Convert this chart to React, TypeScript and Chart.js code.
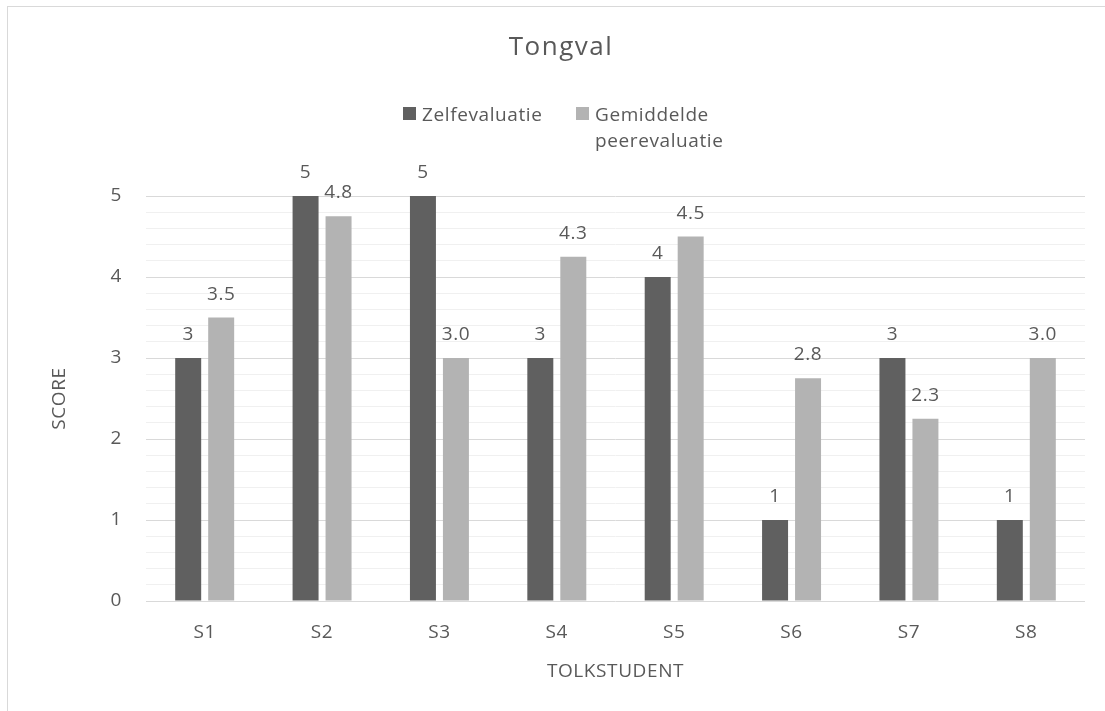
import React, { useEffect, useRef } from 'react';
import { Chart, registerables } from 'chart.js';
Chart.register(...registerables);

const categories = ['S1', 'S2', 'S3', 'S4', 'S5', 'S6', 'S7', 'S8'];
const zelfevaluatie = [3, 5, 5, 3, 4, 1, 3, 1];
const peerevaluatie = [3.5, 4.75, 3.0, 4.25, 4.5, 2.75, 2.25, 3.0];
const seriesNames = ['Zelfevaluatie', 'Gemiddelde peerevaluatie'];
const legendLines = [['Zelfevaluatie'], ['Gemiddelde', 'peerevaluatie']];
const titleText = 'Tongval';
const xTitle = 'TOLKSTUDENT';
const yTitle = 'SCORE';
const yMin = 0;
const yMax = 5;
const yMinorStep = 0.2;

const FONT = "'Open Sans', sans-serif";
const SIZE = 19;
const SPACING = '0.6px';
const TEXT = '#595959';
const DARK = '#606060';
const LIGHT = '#b3b3b3';

const isMajor = (v: number) => Math.abs(v - Math.round(v)) < 1e-6;

const spacingPlugin = {
  id: 'spacing',
  beforeDraw(chart: any) {
    chart.ctx.letterSpacing = SPACING;
  },
};

const labelsPlugin = {
  id: 'valueLabels',
  afterDatasetsDraw(chart: any) {
    const ctx = chart.ctx;
    ctx.save();
    ctx.letterSpacing = SPACING;
    ctx.font = `${SIZE}px ${FONT}`;
    ctx.fillStyle = TEXT;
    ctx.textAlign = 'center';
    ctx.textBaseline = 'alphabetic';
    chart.data.datasets.forEach((ds: any, i: number) => {
      const meta = chart.getDatasetMeta(i);
      meta.data.forEach((bar: any, j: number) => {
        const v = ds.data[j] as number;
        const txt = i === 0 ? String(v) : v.toFixed(1);
        ctx.fillText(txt, bar.x, bar.y - 18);
      });
    });
    ctx.restore();
  },
};

const headerPlugin = {
  id: 'header',
  afterDraw(chart: any) {
    const ctx = chart.ctx;
    ctx.save();
    ctx.fillStyle = TEXT;
    ctx.textBaseline = 'alphabetic';
    ctx.textAlign = 'center';
    ctx.letterSpacing = '1.5px';
    ctx.font = `26px ${FONT}`;
    ctx.fillText(titleText, 561, 55);
    ctx.letterSpacing = SPACING;
    ctx.font = `${SIZE}px ${FONT}`;
    ctx.textAlign = 'left';
    const boxes = [403, 576];
    const colors = chart.data.datasets.map((d: any) => d.backgroundColor);
    legendLines.forEach((lines, i) => {
      ctx.fillStyle = colors[i];
      ctx.fillRect(boxes[i], 107, 13, 13);
      ctx.fillStyle = TEXT;
      lines.forEach((line, k) => {
        ctx.fillText(line, boxes[i] + 19, 121 + k * 25.5);
      });
    });
    ctx.restore();
  },
};

export default function App() {
  const ref = useRef<HTMLCanvasElement | null>(null);
  useEffect(() => {
    if (!ref.current) return;
    const chart = new Chart(ref.current, {
      type: 'bar',
      data: {
        labels: categories,
        datasets: [
          {
            label: seriesNames[0],
            data: zelfevaluatie,
            backgroundColor: DARK,
            categoryPercentage: 0.562,
            barPercentage: 0.788,
          },
          {
            label: seriesNames[1],
            data: peerevaluatie,
            backgroundColor: LIGHT,
            categoryPercentage: 0.562,
            barPercentage: 0.788,
          },
        ],
      },
      options: {
        responsive: false,
        animation: false,
        devicePixelRatio: 1,
        layout: { padding: { left: 44, right: 20, top: 196, bottom: 24 } },
        plugins: {
          legend: { display: false },
          title: { display: false },
          tooltip: { enabled: false },
        },
        scales: {
          x: {
            grid: { display: false, drawTicks: false },
            border: { display: false },
            ticks: { color: TEXT, font: { family: FONT, size: SIZE }, padding: 20 },
            title: {
              display: true,
              text: xTitle,
              color: TEXT,
              font: { family: FONT, size: SIZE },
              padding: { top: 4, bottom: 4 },
            },
            afterFit: (s: any) => {
              s.height = 86;
            },
          },
          y: {
            min: yMin,
            max: yMax,
            ticks: {
              stepSize: yMinorStep,
              autoSkip: false,
              padding: 24,
              color: TEXT,
              font: { family: FONT, size: SIZE },
              callback: (v: any) => (isMajor(Number(v)) ? String(Math.round(Number(v))) : ''),
            },
            grid: {
              drawTicks: false,
              color: (c: any) => (isMajor(c.tick.value) ? '#d9d9d9' : '#f0f0f0'),
              lineWidth: 1,
            },
            border: { display: false },
            title: {
              display: true,
              text: yTitle,
              color: TEXT,
              font: { family: FONT, size: SIZE },
              padding: 4,
            },
            afterFit: (s: any) => {
              s.width = 102;
            },
          },
        },
      },
      plugins: [spacingPlugin, labelsPlugin, headerPlugin],
    });
    return () => chart.destroy();
  }, []);

  return (
    <div style={{ position: 'fixed', left: 0, top: 0, width: 1105, height: 711, background: '#fff', overflow: 'hidden' }}>
      <div
        style={{
          position: 'absolute',
          left: 7,
          top: 6,
          width: 1200,
          height: 800,
          borderLeft: '1.5px solid #d9d9d9',
          borderTop: '1.5px solid #d9d9d9',
        }}
      />
      <canvas ref={ref} width={1105} height={711} style={{ position: 'absolute', left: 0, top: 0, width: 1105, height: 711 }} />
    </div>
  );
}
